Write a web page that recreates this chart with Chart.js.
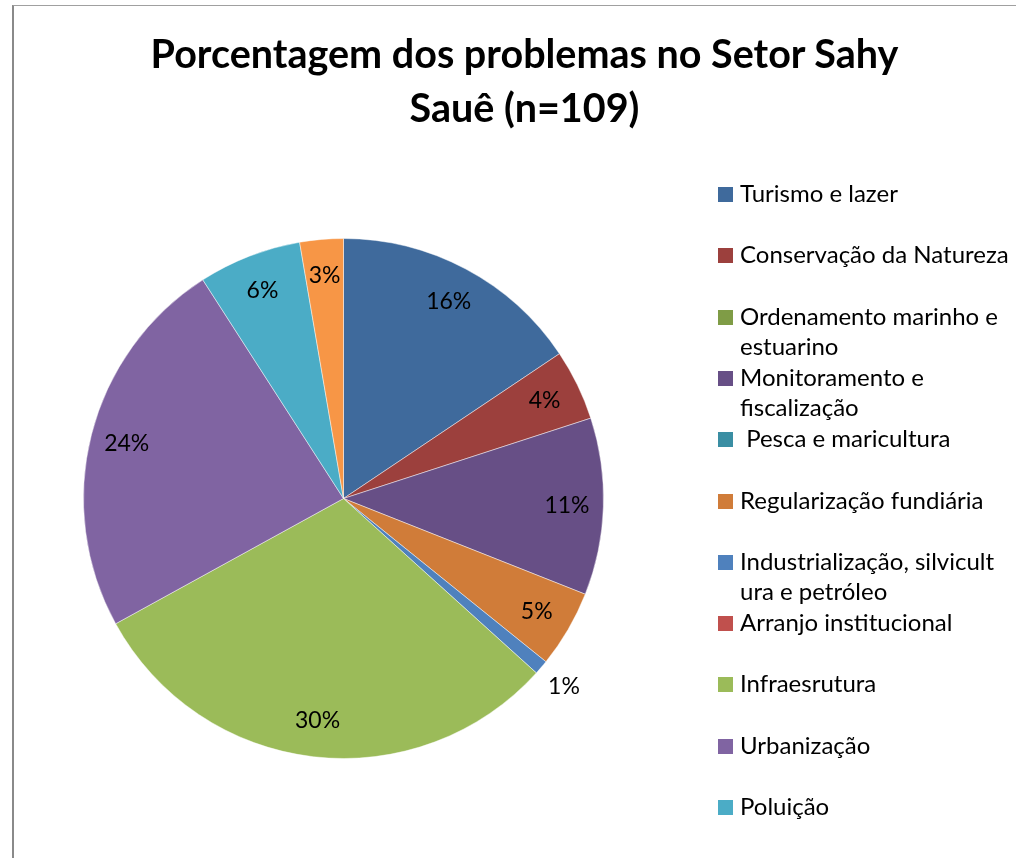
<!DOCTYPE html>
<html>
<head>
<meta charset="utf-8">
<script src="https://cdn.jsdelivr.net/npm/chart.js@4.4.0/dist/chart.umd.min.js"></script>
<style>
  body { margin: 0; background: #fff; }
  #wrap { position: relative; width: 1016px; height: 858px; overflow: hidden; font-family: Lato, "Open Sans", sans-serif; color: #000; }
  #frame { position: absolute; left: 12px; top: 5px; width: 1100px; height: 900px; border-left: 2px solid #8a8a8a; border-top: 1px solid #a0a0a0; }
  #pie { position: absolute; left: 0; top: 0; }
  #title { position: absolute; left: 0; top: 26px; width: 1049px; text-align: center; font-weight: bold; font-size: 39.5px; line-height: 54px; }
  .leg { position: absolute; left: 718px; font-size: 24px; line-height: 30px; white-space: pre; }
  .leg .sw { position: absolute; left: 0; top: 9px; width: 15px; height: 15px; }
  .leg .tx { position: absolute; left: 22px; top: 0; }
</style>
</head>
<body>
<div id="wrap">
  <div id="frame"></div>
  <canvas id="pie" width="1016" height="858"></canvas>
  <div id="title">Porcentagem dos problemas no Setor Sahy<br>Sauê (n=109)</div>
  <div id="legend"></div>
</div>
<script>
// Pie of problem categories, Setor Sahy Sauê
// Legend is HTML (Excel wraps long names), slices + % labels are Chart.js

// Categories (lines as wrapped in the legend). Last one is cut off in the source.
var CATEGORIES = [
  ['Turismo e lazer'],
  ['Conservação da Natureza'],
  ['Ordenamento marinho e', 'estuarino'],
  ['Monitoramento e', 'fiscalização'],
  [' Pesca e maricultura'],
  ['Regularização fundiária'],
  ['Industrialização, silvicult', 'ura e petróleo'],
  ['Arranjo institucional'],
  ['Infraesrutura'],
  ['Urbanização'],
  ['Poluição'],
  ['']
];

// Share of problems, percent
var SLICE_VALUES = [15.6, 4.4, 0, 11.0, 0, 4.8, 0.9, 0, 30.3, 23.9, 6.4, 2.7];

// Excel 2007 palette: dark variants first, then base colours
var SLICE_COLORS = [
  '#3f6a9c', '#9c403d', '#7f9c46', '#674f86', '#3a8ea3', '#d07c39',
  '#4f81bd', '#c0504d', '#9bbb59', '#8064a2', '#4bacc6', '#f79646'
];

// Draw the percentage label of each non-empty slice
var pieLabelPlugin = {
  id: 'pieLabels',
  afterDatasetsDraw: function(chart) {
    var ctx = chart.ctx;
    var meta = chart.getDatasetMeta(0);
    var total = SLICE_VALUES.reduce(function(a, b) { return a + b; }, 0);
    ctx.save();
    ctx.font = '23px Lato';
    ctx.fillStyle = '#000';
    ctx.textAlign = 'center';
    ctx.textBaseline = 'middle';
    meta.data.forEach(function(arc, i) {
      var v = SLICE_VALUES[i];
      if (!v) { return; }
      var p = arc.getProps(['x', 'y', 'startAngle', 'endAngle', 'outerRadius'], true);
      var mid = (p.startAngle + p.endAngle) / 2;
      /* tiny slices get their label outside */
      var r = v < 2 ? p.outerRadius * 1.115 : p.outerRadius * 0.86;
      var txt = Math.round(v / total * 100) + '%';
      ctx.fillText(txt, p.x + Math.cos(mid) * r, p.y + Math.sin(mid) * r);
    });
    ctx.restore();
  }
};

// Legend on the right, one row every 61px
function buildLegend() {
  var el = document.getElementById('legend');
  var html = '';
  CATEGORIES.forEach(function(lines, i) {
    if (!lines[0]) { return; }
    var top = 178 + i * 61.3;
    html += '<div class="leg" style="top:' + top + 'px">' +
              '<div class="sw" style="background:' + SLICE_COLORS[i] + '"></div>' +
              '<div class="tx">' + lines.join('\n') + '</div>' +
            '</div>';
  });
  el.innerHTML = html;
}

function initChart() {
  buildLegend();
  new Chart(document.getElementById('pie'), {
    type: 'pie',
    data: {
      labels: CATEGORIES.map(function(l) { return l.join(' '); }),
      datasets: [{
        data:            SLICE_VALUES,
        backgroundColor: SLICE_COLORS,
        borderColor:     'rgba(255,255,255,0.45)',
        borderWidth:     1,
      }],
    },
    options: {
      responsive: false,
      animation:  false,
      events:     [],
      layout: { padding: { left: 83, top: 238, right: 412, bottom: 99 } },
      plugins: {
        legend:  { display: false },
        title:   { display: false },
        tooltip: { enabled: false },
      },
    },
    plugins: [pieLabelPlugin],
  });
}

document.addEventListener('DOMContentLoaded', initChart);
</script>
</body>
</html>
